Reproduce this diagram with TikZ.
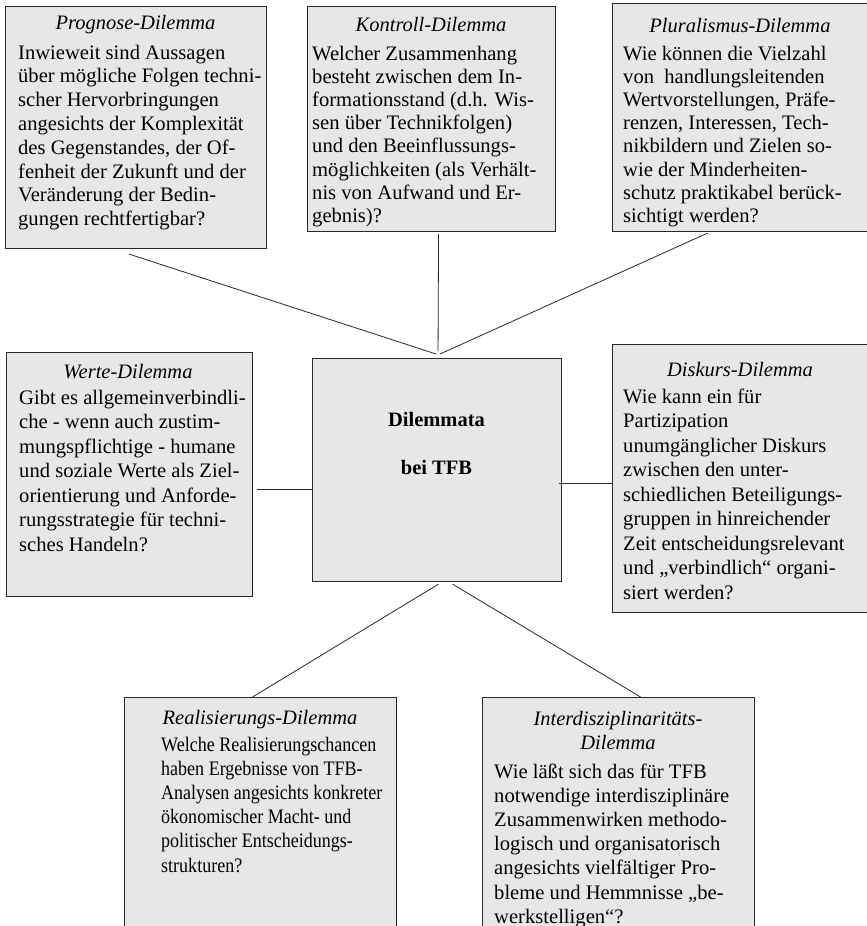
\documentclass[tikz,border=0pt]{standalone}
\usepackage{fontspec}
\setmainfont{Liberation Serif}
\usetikzlibrary{calc}
\definecolor{boxfill}{RGB}{230,231,233}
\definecolor{edge}{RGB}{40,40,40}
% left-aligned block of hand-broken lines, baseline on its first line
\newcommand\textlines[1]{\begin{tabular}[t]{@{}l@{}}#1\end{tabular}}

\begin{document}
\begin{tikzpicture}[x=1pt,y=-1pt,
  panel/.style={draw=edge, fill=boxfill, line width=1.1pt, inner sep=0pt, anchor=north west},
  heading/.style={font=\fontsize{20.5}{24.2}\selectfont\itshape, anchor=base, inner sep=0pt},
  bodytext/.style={font=\fontsize{20.6}{#1}\selectfont, anchor=base west, inner sep=0pt},
  bodytext/.default=24.2,
  centretext/.style={font=\fontsize{20.5}{24.2}\selectfont\bfseries, anchor=base, inner sep=0pt},
  link/.style={draw=edge, line width=0.8pt}]
\useasboundingbox (0,0) rectangle (867,926);
\clip (0,0) rectangle (867,926);

% ---------- panels ----------
\node[panel, minimum width=261, minimum height=242] (prog) at (5,6) {};
\node[panel, minimum width=248, minimum height=225] (kont) at (307,6) {};
\node[panel, minimum width=256, minimum height=228] (plur) at (612,3) {};
\node[panel, minimum width=246, minimum height=244] (wert) at (6,352) {};
\node[panel, minimum width=249, minimum height=223] (core) at (312,358) {};
\node[panel, minimum width=256, minimum height=268] (disk) at (612,344) {};
\node[panel, minimum width=272, minimum height=260] (real) at (124,697) {};
\node[panel, minimum width=272, minimum height=260] (inter) at (482,697) {};

% ---------- connectors ----------
\coordinate (hub)   at ($(core.north)+(0,-5)$);
\coordinate (progA) at ($(prog.south)+(-7,5)$);
\coordinate (kontA) at ($(kont.south)+(7,2)$);
\coordinate (plurA) at ($(plur.south)+(-33,1)$);
\coordinate (wertA) at ($(wert.east)+(4,15)$);
\coordinate (coreR) at ($(core.east)+(-3,13)$);
\coordinate (coreL) at ($(core.south)+(1.5,2)$);
\coordinate (coreM) at ($(core.south)+(15.5,2)$);
\coordinate (realA) at ($(real.north)+(-8,0)$);
\coordinate (interA) at ($(inter.north)+(22,0)$);

\draw[link] (progA) -- ($(hub)+(-1,1)$);
\draw[link] (kontA) -- ($(hub)+(1,-2)$);
\draw[link] (plurA) -- ($(hub)+(3,1)$);
\draw[link] (wertA) -- (wertA -| core.west);
\draw[link] (coreR) -- (coreR -| disk.west);
\draw[link] (coreL) -- (realA);
\draw[link] (coreM) -- (interA);

% ---------- texts ----------
\node[heading] (progT) at (135.5,29) {Prognose-Dilemma};
\node[bodytext=23.8] (progB) at (18,59) {\textlines{%
Inwieweit sind Aussagen\\
über mögliche Folgen techni-\\
scher Hervorbringungen\\
angesichts der Komplexität\\
des Gegenstandes, der Of-\\
fenheit der Zukunft und der\\
Veränderung der Bedin-\\
gungen rechtfertigbar?}};

\node[heading] (kontT) at (431,31) {Kontroll-Dilemma};
\node[bodytext=23.2] (kontB) at (312,60) {\textlines{%
Welcher Zusammenhang\\
besteht zwischen dem In-\\
formationsstand (d.h. Wis-\\
sen über Technikfolgen)\\
und den Beeinflussungs-\\
möglichkeiten (als Verhält-\\
nis von Aufwand und Er-\\
gebnis)?}};

\node[heading] (plurT) at (740,32) {Pluralismus-Dilemma};
\node[bodytext=23.2] (plurB) at (623,60) {\textlines{%
Wie können die Vielzahl\\
von\ \ handlungsleitenden\\
Wertvorstellungen, Präfe-\\
renzen, Interessen, Tech-\\
nikbildern und Zielen so-\\
wie der Minderheiten-\\
schutz praktikabel berück-\\
sichtigt werden?}};

\node[heading] (wertT) at (128,378) {Werte-Dilemma};
\node[bodytext=24.5] (wertB) at (19,404) {\textlines{%
Gibt es allgemeinverbindli-\\
che - wenn auch zustim-\\
mungspflichtige - humane\\
und soziale Werte als Ziel-\\
orientierung und Anforde-\\
rungsstrategie für techni-\\
sches Handeln?}};

\node[centretext] (coreA) at (436.5,426) {Dilemmata};
\node[centretext] (coreB) at (436.5,474) {bei TFB};

\node[heading] (diskT) at (740,376) {Diskurs-Dilemma};
\node[bodytext=24.5] (diskB) at (623,403) {\textlines{%
Wie kann ein für\\
Partizipation\\
unumgänglicher Diskurs\\
zwischen den unter-\\
schiedlichen Beteiligungs-\\
gruppen in hinreichender\\
Zeit\ entscheidungsrelevant\\
und „verbindlich“ organi-\\
siert werden?}};

\node[heading] (realT) at (260,724) {Realisierungs-Dilemma};
\node[bodytext] (realB) at (161,751) {\addfontfeature{FakeStretch=0.875}\textlines{%
Welche Realisierungschancen\\
haben Ergebnisse von TFB-\\
Analysen angesichts konkreter\\
ökonomischer Macht- und\\
politischer Entscheidungs-\\
strukturen?}};

\node[heading, align=center, anchor=base] (interT) at (618,725) {\textlines{\hfill Interdisziplinaritäts-\hfill\null\\ \hfill Dilemma\hfill\null}};
\node[bodytext] (interB) at (494,778) {\textlines{%
Wie läßt sich das für TFB\\
notwendige interdisziplinäre\\
Zusammenwirken methodo-\\
logisch und organisatorisch\\
angesichts vielfältiger Pro-\\
bleme und Hemmnisse „be-\\
werkstelligen“?}};
\end{tikzpicture}
\end{document}
